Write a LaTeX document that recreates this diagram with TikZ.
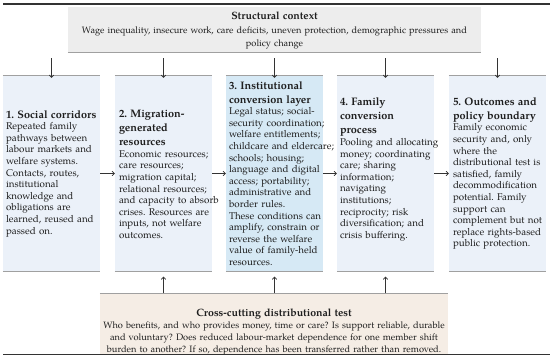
\documentclass[tikz,border=0pt]{standalone}
\usepackage{fontspec}
\setmainfont{TeX Gyre Pagella}
\usetikzlibrary{arrows.meta,calc}
\frenchspacing
\definecolor{boxblue}{HTML}{EBF1F9}
\definecolor{boxmid}{HTML}{D6E9F5}
\definecolor{boxgray}{HTML}{EDEDED}
\definecolor{boxbeige}{HTML}{F5EDE5}
\definecolor{linegray}{HTML}{A0A0A0}
\definecolor{darkc}{HTML}{333333}
\definecolor{textc}{HTML}{1E1E1E}
\newcommand\mybody{\fontsize{9.8}{11.6}\selectfont}
\newcommand\mysmall{\fontsize{9.25}{13.4}\selectfont}
\newcommand\mysmallb{\fontsize{9.25}{11.7}\selectfont}
\newcommand\myhd{\fontsize{10.9}{14}\selectfont\bfseries}
\newcommand\mytitle{\fontsize{10.6}{12.5}\selectfont\bfseries}
\begin{document}
\begin{tikzpicture}[x=1pt,y=-1pt,
  panel/.style={fill=boxblue, minimum width=97pt, minimum height=195pt, inner sep=0pt, draw=none},
  sepline/.style={draw=linegray, line width=1.1pt},
  hrule/.style={draw=darkc, line width=1.5pt},
  arr/.style={-{To[length=3pt,width=5pt]}, line width=0.7pt, draw=darkc},
  body/.style={text width=110pt, align=left, inner sep=0pt, anchor=west, font=\mybody, text=textc},
  ctext/.style={align=center, inner sep=0pt, text=textc, text width=440pt}]
\useasboundingbox (0,0) rectangle (550,360);
\fill[white] (0,0) rectangle (550,360);
% rules
\coordinate (tl) at (3,4); \coordinate (tr) at (550,4);
\coordinate (bl) at (3,354.5); \coordinate (br) at (550,354.5);
\draw[hrule] (tl) -- (tr);
% structural context
\node[fill=boxgray, minimum width=413pt, minimum height=45pt, inner sep=0pt] (S) at (274.5,29.5) {};
\node[ctext, font=\mysmall] (St) at (274.5,30.5) {{\mytitle Structural context\par}Wage inequality, insecure work, care deficits, uneven protection, demographic pressures and\\policy change};
\draw[sepline] (S.south west) -- (S.south east);
% panels
\node[panel] (b1) at (51.5,173.5) {};
\node[panel] (b2) at (163.5,173.5) {};
\node[panel, fill=boxmid] (b3) at (274.5,173.5) {};
\node[panel] (b4) at (385.5,173.5) {};
\node[panel] (b5) at (497.5,173.5) {};
\foreach \b in {b1,b2,b3,b4,b5}{
  \draw[sepline] (\b.north west) -- (\b.north east);
  \draw[sepline] (\b.south west) -- (\b.south east);
  \draw[arr] ([yshift=-6pt]S.south -| \b.north) -- ([yshift=-2pt]\b.north);
}
\node[body] (t1) at ([xshift=3pt]b1.west) {{\myhd 1. Social corridors\par}Repeated family\\pathways between\\labour markets and\\welfare systems.\\Contacts, routes,\\institutional\\knowledge and\\obligations are\\learned, reused and\\passed on.};
\node[body] (t2) at ([xshift=4pt,yshift=-1pt]b2.west) {{\myhd 2. Migration-\\generated\\resources\par}Economic resources;\\care resources;\\migration capital;\\relational resources;\\and capacity to absorb\\crises. Resources are\\inputs, not welfare\\outcomes.};
\node[body] (t3) at ([xshift=3pt]b3.west) {{\myhd 3. Institutional\\conversion layer\par}Legal status; social-\\security coordination;\\welfare entitlements;\\childcare and eldercare;\\schools; housing;\\language and digital\\access; portability;\\administrative and\\border rules.\\These conditions can\\amplify, constrain or\\reverse the welfare\\value of family-held\\resources.};
\node[body] (t4) at ([xshift=3pt,yshift=4pt]b4.west) {{\myhd 4. Family\\conversion\\process\par}Pooling and allocating\\money; coordinating\\care; sharing\\information;\\navigating\\institutions;\\reciprocity; risk\\diversification; and\\crisis buffering.};
\node[body] (t5) at ([xshift=4pt]b5.west) {{\myhd 5. Outcomes and\\policy boundary\par}Family economic\\security and, only\\where the\\distributional test is\\satisfied, family\\decommodification\\potential. Family\\support can\\complement but not\\replace rights-based\\public protection.};
% horizontal arrows
\draw[arr] (b1.east) -- (b2.west);
\draw[arr] (b2.east) -- (b3.west);
\draw[arr] (b3.east) -- (b4.west);
\draw[arr] (b4.east) -- (b5.west);
% bottom box
\node[fill=boxbeige, minimum width=348pt, minimum height=60pt, inner sep=0pt] (X) at (274,323.5) {};
\draw[sepline] (X.north west) -- (X.north east);
\node[ctext, font=\mysmallb] (Xt) at (274,332) {{\mytitle Cross-cutting distributional test\par}Who benefits, and who provides money, time or care? Is support reliable, durable\\and voluntary? Does reduced labour-market dependence for one member shift\\burden to another? If so, dependence has been transferred rather than removed.};
\foreach \b in {b2,b3,b4}{
  \draw[arr] (X.north -| \b.south) -- ([yshift=-5.5pt]\b.south);
}
\draw[hrule] (bl) -- (br);
\end{tikzpicture}
\end{document}
